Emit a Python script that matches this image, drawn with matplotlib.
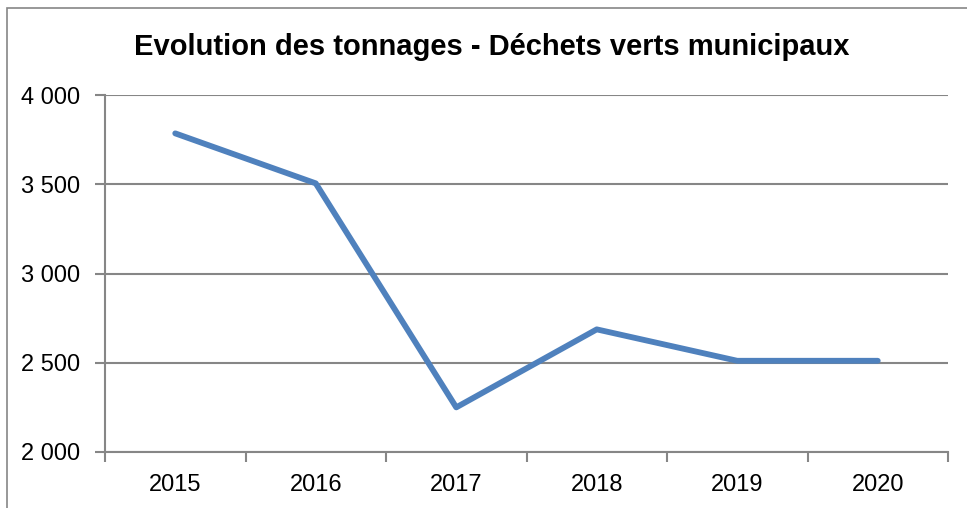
import matplotlib
matplotlib.use("Agg")
import matplotlib.pyplot as plt
from matplotlib.patches import Rectangle
import numpy as np

years = ["2015", "2016", "2017", "2018", "2019", "2020"]
tonnages = [3785, 3505, 2250, 2687, 2511, 2511]
y_ticks = [2000, 2500, 3000, 3500, 4000]

plt.rcParams['font.family'] = ['Liberation Sans', 'DejaVu Sans']
grey = '#868686'

fig = plt.figure(figsize=(9.67, 5.08), dpi=100)
# chart frame (cropped on right / bottom)
fig.patches.append(Rectangle((7 / 967, -0.1), 1.2, 1 - 8 / 508 + 0.1, transform=fig.transFigure,
                             fill=False, edgecolor=grey, linewidth=1.2))

ax = fig.add_axes([105 / 967, 1 - 452 / 508, (948 - 105) / 967, (452 - 95) / 508])
x = np.arange(len(years))
ax.plot(x, tonnages, color='#4F81BD', linewidth=4.2, solid_capstyle='round', solid_joinstyle='round', zorder=3)

ax.set_xlim(-0.5, len(years) - 0.5)
ax.set_ylim(2000, 4000)
ax.set_yticks(y_ticks)
ax.set_yticklabels([f"{v:,}".replace(",", " ") for v in y_ticks])
ax.yaxis.grid(True, color=grey, linewidth=1.5)
ax.set_axisbelow(True)

ax.set_xticks(np.arange(-0.5, len(years), 1.0))
ax.set_xticklabels([])
ax.set_xticks(x, minor=True)
ax.set_xticklabels(years, minor=True)
ax.tick_params(axis='x', which='major', length=7, width=1.5, color=grey)
ax.tick_params(axis='x', which='minor', length=0, pad=16, labelsize=17)
ax.tick_params(axis='y', length=7, width=1.5, color=grey, pad=11, labelsize=17)

for s in ['top', 'right']:
    ax.spines[s].set_visible(False)
for s in ['left', 'bottom']:
    ax.spines[s].set_color(grey)
    ax.spines[s].set_linewidth(1.5)

fig.text(492 / 967, 1 - 47 / 508, "Evolution des tonnages - Déchets verts municipaux",
         ha='center', va='center', fontsize=21, fontweight='bold')

fig.savefig("out.png", dpi=100)
